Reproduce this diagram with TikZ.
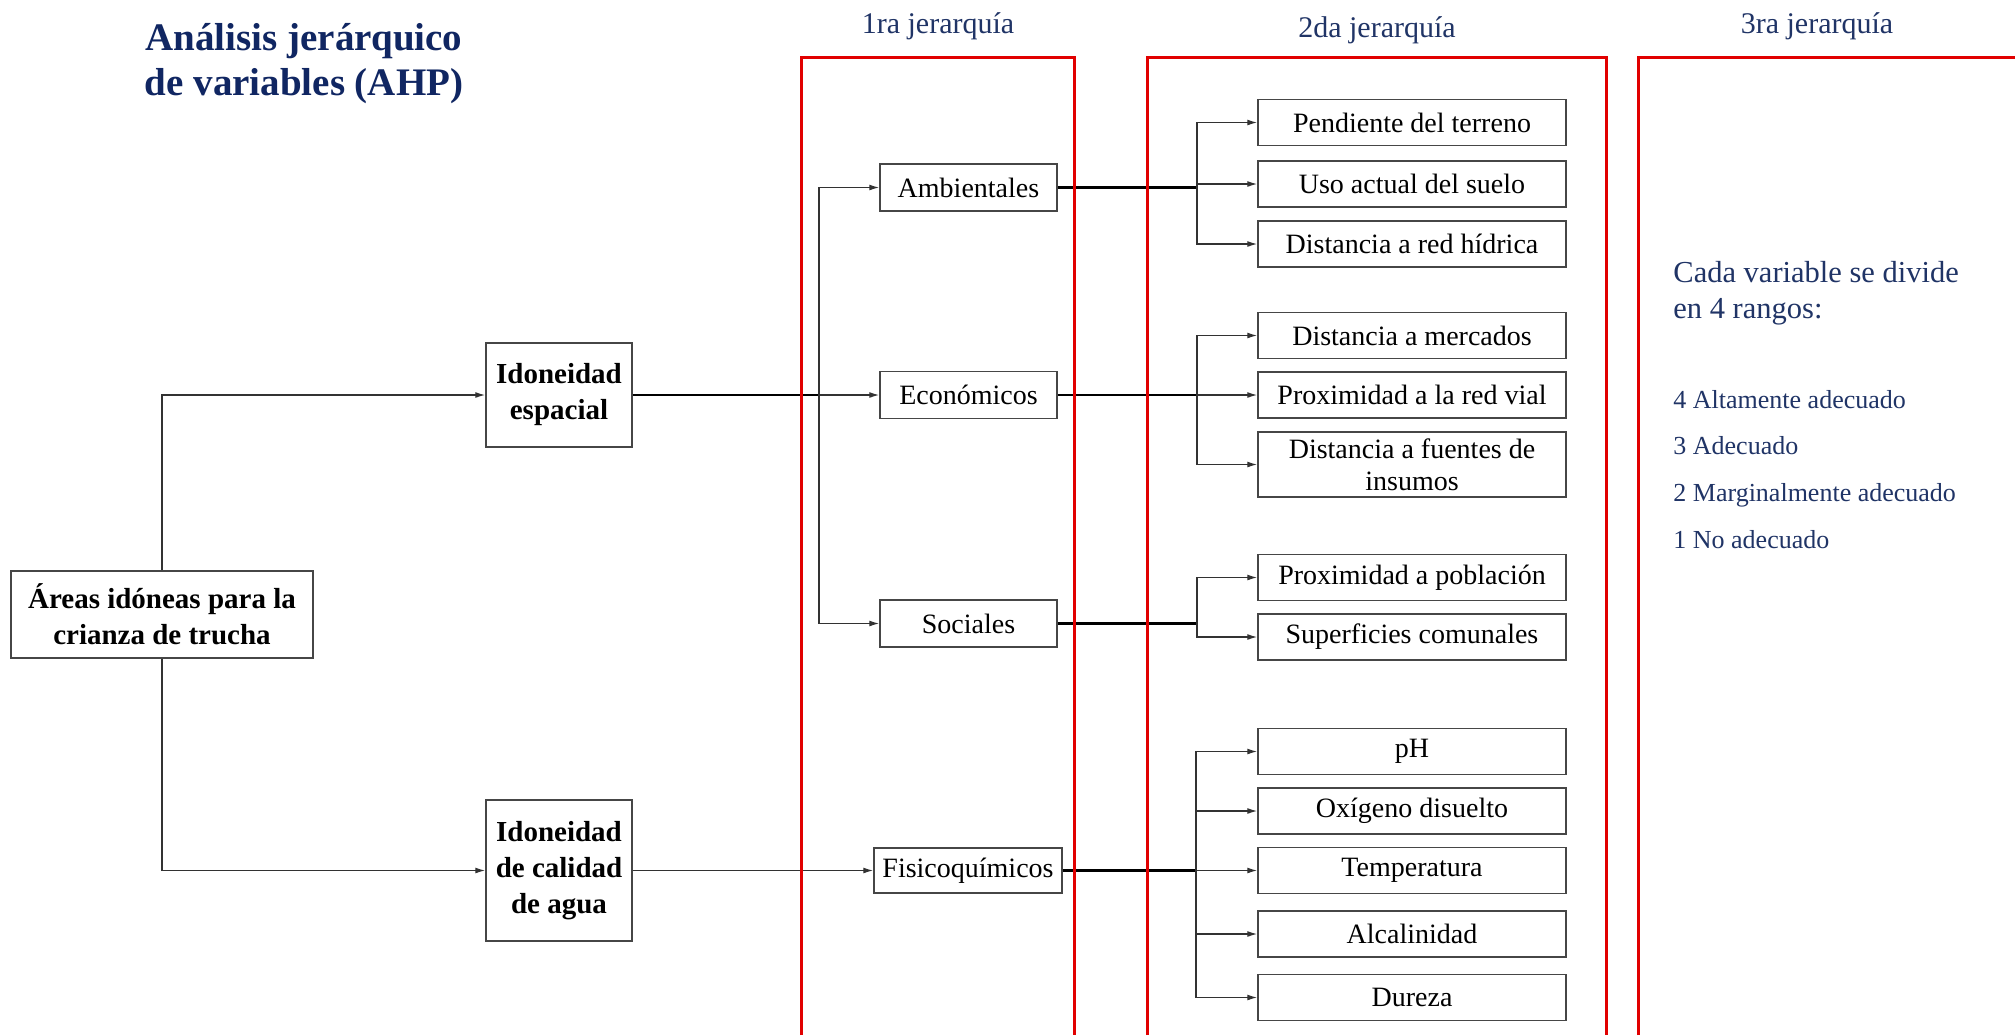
\documentclass[tikz,border=0pt]{standalone}
\usepackage{fontspec}
\setmainfont{Liberation Serif}
\usetikzlibrary{arrows.meta}
\definecolor{navy}{RGB}{16,38,98}
\definecolor{labnavy}{RGB}{32,52,102}
\definecolor{redline}{RGB}{225,0,0}
\definecolor{boxline}{RGB}{70,70,70}
\definecolor{conline}{RGB}{50,50,50}
\begin{document}
\begin{tikzpicture}[x=0.5pt,y=-0.5pt,
  box/.style={draw=boxline, line width=0.75pt, inner sep=0pt, align=center, font=\fontsize{14pt}{16pt}\selectfont},
  bbox/.style={box, font=\fontsize{14.5pt}{18pt}\selectfont\bfseries},
  lvtwo/.style={box, minimum width=154pt, minimum height=23pt},
  lvone/.style={box, minimum width=88.5pt, minimum height=23.5pt},
  arr/.style={draw=conline, line width=0.65pt, -{Latex[length=5pt,width=3pt]}},
  thk/.style={draw=black, line width=1.1pt},
  redbox/.style={draw=redline, line width=1.5pt},
  lab/.style={text=labnavy, font=\fontsize{15pt}{18pt}\selectfont, inner sep=0pt, anchor=base},
  ttl/.style={text=navy, font=\fontsize{19.5pt}{22pt}\selectfont\bfseries, inner sep=0pt, anchor=base},
  rtxt/.style={text=labnavy, inner sep=0pt, anchor=base west},
]
\path[use as bounding box, fill=white] (0,0) rectangle (2015,1035);

% title and column labels
\node[ttl] (t1) at (304,50) {Análisis jerárquico};
\node[ttl] (t2) at (304,95) {de variables (AHP)};
\node[lab] (l1) at (938,33) {1ra jerarquía};
\node[lab] (l2) at (1377,37) {2da jerarquía};
\node[lab] (l3) at (1817,33) {3ra jerarquía};

% main boxes
\node[bbox, minimum width=151pt, minimum height=43.5pt] (areas) at (162,614.5) {Áreas idóneas para la\\crianza de trucha};
\node[bbox, minimum width=73pt, minimum height=52pt] (esp) at (559,395) {Idoneidad\\espacial};
\node[bbox, minimum width=73pt, minimum height=70.5pt] (cal) at (559,870.5) {Idoneidad\\de calidad\\de agua};

% first hierarchy
\node[lvone] (amb) at (968.5,187.5) {Ambientales};
\node[lvone] (eco) at (968.5,395) {Económicos};
\node[lvone] (soc) at (968.5,623.5) {Sociales};
\node[box, minimum width=94pt, minimum height=22.5pt] (fis) at (968,870.5) {Fisicoquímicos};

% second hierarchy
\node[lvtwo] (pend) at (1412,122.5) {Pendiente del terreno};
\node[lvtwo] (uso) at (1412,184) {Uso actual del suelo};
\node[lvtwo] (dist) at (1412,244) {Distancia a red hídrica};
\node[lvtwo] (merc) at (1412,335.5) {Distancia a mercados};
\node[lvtwo] (vial) at (1412,395) {Proximidad a la red vial};
\node[lvtwo, minimum height=32.5pt] (fuen) at (1412,464.5) {Distancia a fuentes de\\insumos};
\node[lvtwo] (pobl) at (1412,577.5) {Proximidad a población};
\node[lvtwo] (sup) at (1412,637) {Superficies comunales};
\node[lvtwo] (ph) at (1412,751.5) {pH};
\node[lvtwo] (oxi) at (1412,811) {Oxígeno disuelto};
\node[lvtwo] (temp) at (1412,870.5) {Temperatura};
\node[lvtwo] (alc) at (1412,934) {Alcalinidad};
\node[lvtwo] (dur) at (1412,997.5) {Dureza};

% connectors root
\draw[arr] (areas.north) |- (esp.west);
\draw[arr] (areas.south) |- (cal.west);

\coordinate (j1) at (819,395);
\draw[thk] (esp.east) -- (j1);
\draw[arr] (j1) -- (eco.west);
\draw[arr] (j1) |- (amb.west);
\draw[arr] (j1) |- (soc.west);
\draw[arr] (cal.east) -- (fis.west);

\coordinate (j2) at (1197,187.5);
\draw[thk] (amb.east) -- (j2);
\draw[arr] (j2) |- (pend.west);
\draw[arr] (j2) |- (uso.west);
\draw[arr] (j2) |- (dist.west);

\coordinate (j3) at (1197,395);
\draw[thk] (eco.east) -- (j3);
\draw[arr] (j3) -- (vial.west);
\draw[arr] (j3) |- (merc.west);
\draw[arr] (j3) |- (fuen.west);

\coordinate (j4) at (1197,623.5);
\draw[thk] (soc.east) -- (j4);
\draw[arr] (j4) |- (pobl.west);
\draw[arr] (j4) |- (sup.west);

\coordinate (j5) at (1196,870.5);
\draw[thk] (fis.east) -- (j5);
\draw[arr] (j5) -- (temp.west);
\draw[arr] (j5) |- (ph.west);
\draw[arr] (j5) |- (oxi.west);
\draw[arr] (j5) |- (alc.west);
\draw[arr] (j5) |- (dur.west);

% red frames
\draw[redbox] (801,1035) -- (801,57) -- (1074,57) -- (1074,1035);
\draw[redbox] (1147,1035) -- (1147,57) -- (1606,57) -- (1606,1035);
\draw[redbox] (1638,1035) -- (1638,57) -- (2015,57);

% third hierarchy text
\node[rtxt, font=\fontsize{15.25pt}{18pt}\selectfont] (c1) at (1673,282) {Cada variable se divide};
\node[rtxt, font=\fontsize{15.25pt}{18pt}\selectfont] (c2) at (1673,318) {en 4 rangos:};
\node[rtxt, font=\fontsize{13pt}{15pt}\selectfont] (r4) at (1673,408) {4 Altamente adecuado};
\node[rtxt, font=\fontsize{13pt}{15pt}\selectfont] (r3) at (1673,454) {3 Adecuado};
\node[rtxt, font=\fontsize{13pt}{15pt}\selectfont] (r2) at (1673,501) {2 Marginalmente adecuado};
\node[rtxt, font=\fontsize{13pt}{15pt}\selectfont] (r1) at (1673,548) {1 No adecuado};
\end{tikzpicture}
\end{document}
